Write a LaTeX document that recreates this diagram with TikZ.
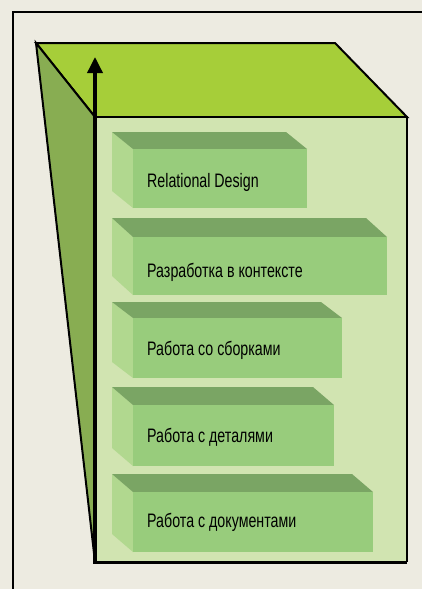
\documentclass[tikz,border=0pt]{standalone}
\usepackage{fontspec}
\usetikzlibrary{arrows.meta}
\newfontfamily\labelfont[FakeStretch=0.73]{Liberation Sans}
\definecolor{paper}{HTML}{EDEBE1}
\definecolor{topface}{HTML}{A6CE39}
\definecolor{sideface}{HTML}{88AD52}
\definecolor{frontface}{HTML}{D1E4B1}
\definecolor{boxfront}{HTML}{98CC7C}
\definecolor{boxtop}{HTML}{7AA564}
\definecolor{boxside}{HTML}{B1D88F}
\tikzset{
  edge/.style={draw=black, line width=2pt, line join=miter},
  lbl/.style={anchor=base west, inner sep=0pt, font=\labelfont\fontsize{19.5}{22}\selectfont, text=black},
}
\begin{document}
\begin{tikzpicture}[x=1pt, y=-1pt]
  \useasboundingbox (0,0) rectangle (422,589);
  \fill[paper] (0,0) rectangle (422,589);
  % outer frame
  \draw[line width=1.8pt] (13,589) -- (13,12) -- (422,12);

  % corners of the block
  \coordinate (tl) at (36,43);
  \coordinate (tr) at (335,43);
  \coordinate (fl) at (95,117);
  \coordinate (fr) at (407,117);
  \coordinate (bl) at (95,562);
  \coordinate (br) at (407,562);

  % top and left faces
  \filldraw[fill=topface, edge] (tl) -- (tr) -- (fr) -- (fl) -- cycle;
  \filldraw[fill=sideface, edge] (tl) -- (fl) -- (bl) -- cycle;
  % front face
  \fill[frontface] (fl) rectangle (br);

  % stacked boxes: top, front top, bottom, right edge, text baseline, name, label
  \foreach \yt/\yf/\yb/\xr/\yl/\nm/\txt in {
      132/149/208/307/187/b1/{Relational Design},
      218/237/295/387/277/b2/{Разработка в контексте},
      302/318/378/342/355/b3/{Работа со сборками},
      387/405/466/334/442/b4/{Работа с деталями},
      474/492/552/373/527/b5/{Работа с документами}} {
    \pgfmathsetmacro{\dy}{\yf-\yt}
    \pgfmathsetmacro{\xb}{\xr-21}
    \fill[boxside] (112,\yt) -- (133,\yf) -- (133,\yb) -- (112,\yb-\dy) -- cycle;
    \fill[boxtop] (112,\yt) -- (\xb,\yt) -- (\xr,\yf) -- (133,\yf) -- cycle;
    \fill[boxfront] (133,\yf) rectangle (\xr,\yb);
    \node[lbl] (\nm) at (147,\yl) {\txt};
  }

  % front face outline
  \draw[edge] (fl) -- (fr) -- (br);
  \draw[line width=3pt] (br) -- (bl);
  % vertical axis
  \coordinate (axbase) at (95,563.5);
  \coordinate (axtip) at (95,57);
  \draw[line width=3.5pt, -{Triangle[width=15pt,length=16pt]}] (axbase) -- (axtip);
\end{tikzpicture}
\end{document}
